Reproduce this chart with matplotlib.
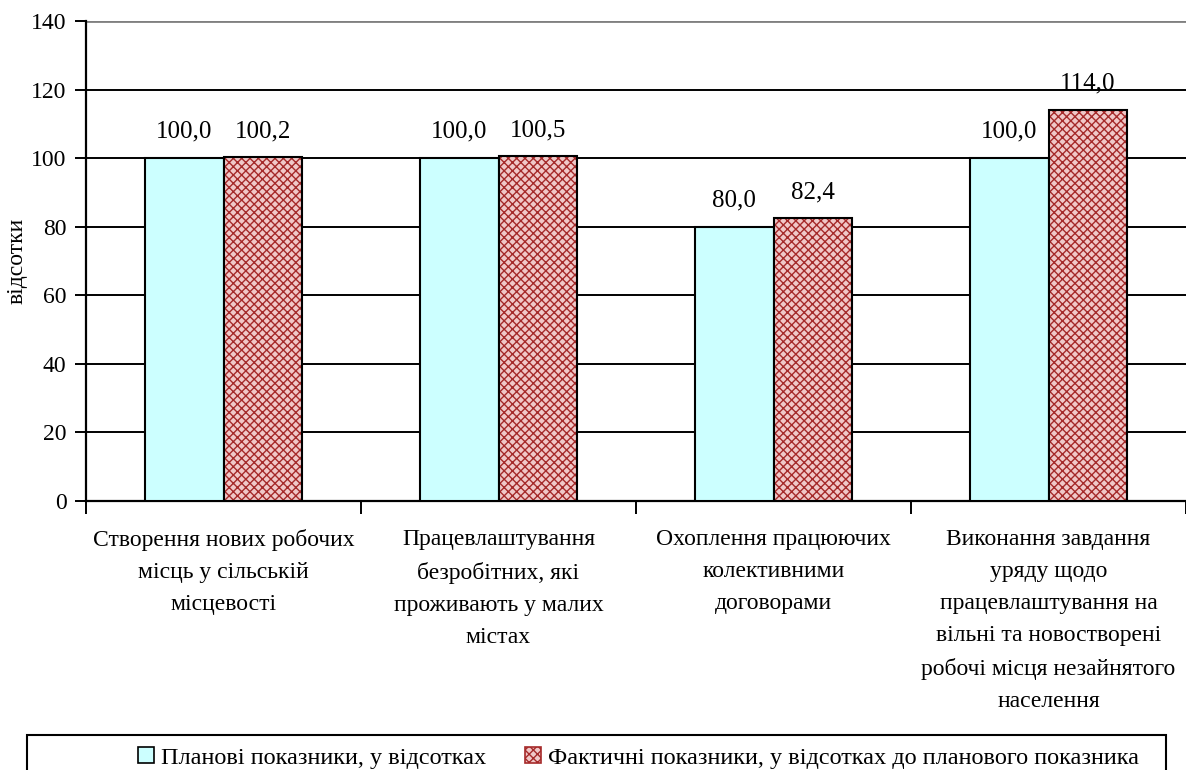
import matplotlib.pyplot as plt
import matplotlib.patches as mpatches
import numpy as np

plt.rcParams['font.family'] = ['Liberation Serif', 'DejaVu Serif']
plt.rcParams['hatch.linewidth'] = 1.0

categories = [
    "Створення нових робочих\nмісць у сільській\nмісцевості",
    "Працевлаштування\nбезробітних, які\nпроживають у малих\nмістах",
    "Охоплення працюючих\nколективними\nдоговорами",
    "Виконання завдання\nуряду щодо\nпрацевлаштування на\nвільні та новостворені\nробочі місця незайнятого\nнаселення",
]
planned = [100.0, 100.0, 80.0, 100.0]
actual = [100.2, 100.5, 82.4, 114.0]
series_names = ["Планові показники, у відсотках",
                "Фактичні показники, у відсотках до планового показника"]
y_ticks = [0, 20, 40, 60, 80, 100, 120, 140]

cyan = "#ccffff"
pink = "#f0c8c8"
hatch_red = "#a52a2a"


def fmt(v):
    return f"{v:.1f}".replace(".", ",")


fig = plt.figure(figsize=(11.86, 7.7), dpi=100)
ax = fig.add_axes([86 / 1186, 1 - 501 / 770, 1 - 86 / 1186, (501 - 21) / 770])

x = np.arange(len(categories))
w = 0.287

# horizontal grid
for t in y_ticks[1:-1]:
    ax.axhline(t, color="black", lw=1.4, zorder=1)
ax.axhline(y_ticks[-1], color="#808080", lw=2, zorder=1)

ax.bar(x - w / 2, planned, width=w, color=cyan,
       edgecolor="black", linewidth=1.5, zorder=3)
ax.bar(x + w / 2, actual, width=w, color=pink, edgecolor=hatch_red,
       hatch="xxxx", linewidth=0, zorder=3)
ax.bar(x + w / 2, actual, width=w, fill=False, edgecolor="black",
       linewidth=1.5, zorder=4)

for xi, v in zip(x - w / 2, planned):
    ax.text(xi, v + 4.5, fmt(v), ha="center", va="bottom", fontsize=18)
for xi, v in zip(x + w / 2, actual):
    ax.text(xi, v + 4.5, fmt(v), ha="center", va="bottom", fontsize=18)

ax.set_xlim(-0.5, len(categories) - 0.5)
ax.set_ylim(0, 140)
ax.set_yticks(y_ticks)
ax.tick_params(axis="y", labelsize=17, length=8, width=1.4, direction="out", pad=6)
ax.set_xticks(x)
ax.set_xticklabels(categories, fontsize=17, va="top")
for lbl in ax.get_xticklabels():
    lbl.set_linespacing(1.7)
ax.tick_params(axis="x", length=0, pad=20)
ax.set_xticks(np.arange(-0.5, len(categories), 1), minor=True)
ax.tick_params(axis="x", which="minor", length=9, width=1.4, direction="out")

for s in ["top", "right"]:
    ax.spines[s].set_visible(False)
ax.spines["left"].set_linewidth(1.6)
ax.spines["bottom"].set_linewidth(1.6)
ax.set_ylabel("відсотки", fontsize=17)
ax.yaxis.set_label_coords(-58 / 1100, 0.5)

# legend: frame drawn separately, entries placed inside
frame = mpatches.Rectangle((27 / 1186, -0.05), (1166 - 27) / 1186, 0.05 + (770 - 735) / 770,
                           transform=fig.transFigure, fill=False, edgecolor="black",
                           linewidth=1.5)
fig.patches.append(frame)
h1 = mpatches.Patch(facecolor=cyan, edgecolor="black", linewidth=1.2)
h2 = mpatches.Patch(facecolor=pink, edgecolor=hatch_red, hatch="xxxx", linewidth=1.2)
leg = fig.legend([h1, h2], series_names, loc="center left",
                 bbox_to_anchor=(138 / 1186, 1 - 758 / 770),
                 ncol=2, fontsize=17.5, handlelength=0.65, handleheight=0.65,
                 handletextpad=0.3, columnspacing=1.6, borderpad=0, frameon=False,
                 borderaxespad=0)

fig.savefig("out.png", dpi=100)
